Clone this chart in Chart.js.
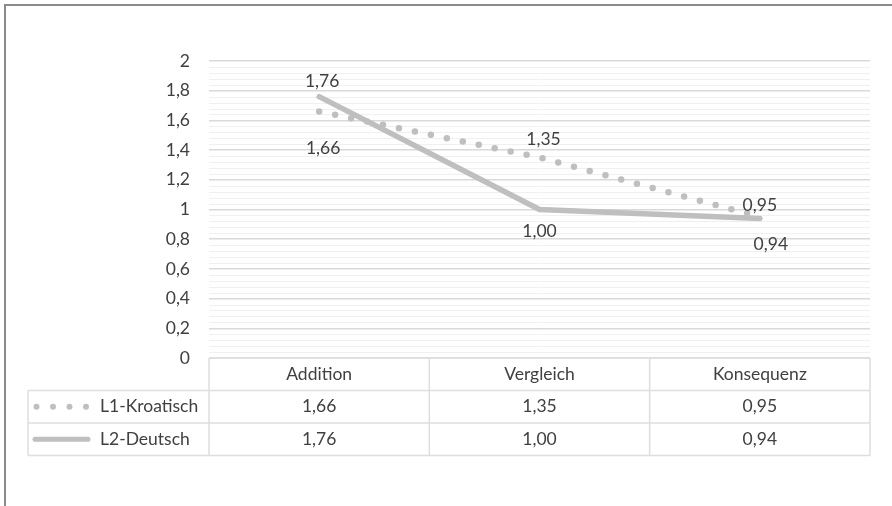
<!DOCTYPE html>
<html>
<head>
<meta charset="utf-8">
<script src="https://cdn.jsdelivr.net/npm/chart.js@4.4.0/dist/chart.umd.min.js"></script>
<style>
  html, body { margin: 0; padding: 0; background: #fff; }
  #wrap { width: 892px; height: 506px; }
</style>
</head>
<body>
<div id="wrap"><canvas id="myChart" width="892" height="506"></canvas></div>
<script>
const categories = ['Addition', 'Vergleich', 'Konsequenz'];
const seriesNames = ['L1-Kroatisch', 'L2-Deutsch'];
const kroatisch = [1.66, 1.35, 0.95];
const deutsch = [1.76, 1.00, 0.94];
const yMin = 0;
const yMax = 2;
const yStep = 0.2;
const yMinorStep = 0.04;

const FONT = 'Lato, "Open Sans", sans-serif';
const FONT_SIZE = 17.5;
const lineGrey = '#bfbfbf';
const textColor = '#404040';
const tableLine = '#dedede';

// label offsets (dx, dy) relative to each point, like excel's above / below
const labelOffsets = [
  [[4, 37], [4, -18], [0, -12]],
  [[3, -15], [0, 22], [11, 26]]
];

function fmt(v, digits) {
  return v.toFixed(digits).replace('.', ',');
}

// light minor gridlines between the major ones
const minorGrid = {
  id: 'minorGrid',
  beforeDatasetsDraw(chart) {
    const { ctx, chartArea, scales } = chart;
    const y = scales.y;
    ctx.save();
    ctx.strokeStyle = '#f0f0f0';
    ctx.lineWidth = 1;
    const n = Math.round((yMax - yMin) / yMinorStep);
    for (let i = 0; i <= n; i++) {
      if (i % 5 === 0) continue;
      const py = Math.round(y.getPixelForValue(yMin + i * yMinorStep)) + 0.5;
      ctx.beginPath();
      ctx.moveTo(chartArea.left, py);
      ctx.lineTo(chartArea.right, py);
      ctx.stroke();
    }
    ctx.restore();
  }
};

const dataLabels = {
  id: 'dataLabels',
  afterDatasetsDraw(chart) {
    const { ctx } = chart;
    ctx.save();
    ctx.font = FONT_SIZE + 'px ' + FONT;
    ctx.fillStyle = textColor;
    ctx.textAlign = 'center';
    ctx.textBaseline = 'middle';
    chart.data.datasets.forEach((ds, di) => {
      const meta = chart.getDatasetMeta(di);
      meta.data.forEach((pt, i) => {
        const off = labelOffsets[di][i];
        ctx.fillText(fmt(ds.data[i], 2), pt.x + off[0], pt.y + off[1]);
      });
    });
    ctx.restore();
  }
};

// data table under the plot, with legend keys, plus the frame of the picture
const dataTable = {
  id: 'dataTable',
  afterDraw(chart) {
    const { ctx, chartArea, scales } = chart;
    const x = scales.x;
    const left = chartArea.left, right = chartArea.right;
    const top = chartArea.bottom;
    const rowH = 32.5;
    const tableLeft = 28;
    const colW = (right - left) / categories.length;

    ctx.save();
    ctx.strokeStyle = tableLine;
    ctx.lineWidth = 1.5;
    // horizontals
    ctx.beginPath();
    ctx.moveTo(left, top); ctx.lineTo(right, top);
    for (let r = 1; r <= 3; r++) {
      const py = top + r * rowH;
      ctx.moveTo(tableLeft, py); ctx.lineTo(right, py);
    }
    // verticals
    for (let c = 0; c <= categories.length; c++) {
      const px = left + c * colW;
      ctx.moveTo(px, top); ctx.lineTo(px, top + 3 * rowH);
    }
    ctx.moveTo(tableLeft, top + rowH); ctx.lineTo(tableLeft, top + 3 * rowH);
    ctx.stroke();

    ctx.font = FONT_SIZE + 'px ' + FONT;
    ctx.fillStyle = textColor;
    ctx.textBaseline = 'middle';
    ctx.textAlign = 'center';
    categories.forEach((c, i) => {
      ctx.fillText(c, x.getPixelForValue(i), top + rowH / 2);
    });
    const rows = [kroatisch, deutsch];
    rows.forEach((vals, r) => {
      const cy = top + rowH * (r + 1.5);
      vals.forEach((v, i) => {
        ctx.fillText(fmt(v, 2), x.getPixelForValue(i), cy);
      });
    });

    // legend keys
    ctx.textAlign = 'left';
    seriesNames.forEach((name, r) => {
      const cy = top + rowH * (r + 1.5);
      ctx.fillText(name, 100, cy);
    });
    const cy1 = top + rowH * 1.5;
    ctx.fillStyle = lineGrey;
    [36.5, 53, 69.5, 86].forEach(px => {
      ctx.beginPath();
      ctx.arc(px, cy1, 3, 0, Math.PI * 2);
      ctx.fill();
    });
    const cy2 = top + rowH * 2.5;
    ctx.strokeStyle = lineGrey;
    ctx.lineWidth = 5;
    ctx.lineCap = 'round';
    ctx.beginPath();
    ctx.moveTo(35, cy2); ctx.lineTo(88, cy2);
    ctx.stroke();

    // outer frame (top and left only visible)
    ctx.strokeStyle = '#8a8a8a';
    ctx.lineWidth = 2;
    ctx.lineCap = 'butt';
    ctx.beginPath();
    ctx.moveTo(5, 506); ctx.lineTo(5, 5); ctx.lineTo(892, 5);
    ctx.stroke();
    ctx.restore();
  }
};

const ctx = document.getElementById('myChart').getContext('2d');
const myChart = new Chart(ctx, {
  type: 'line',
  data: {
    labels: categories,
    datasets: [
      {
        label: seriesNames[0],
        data: kroatisch,
        borderColor: lineGrey,
        borderWidth: 6.5,
        borderDash: [0, 16.3],
        borderCapStyle: 'round',
        pointRadius: 0,
        tension: 0,
      },
      {
        label: seriesNames[1],
        data: deutsch,
        borderColor: lineGrey,
        borderWidth: 5.5,
        borderCapStyle: 'round',
        borderJoinStyle: 'round',
        pointRadius: 0,
        tension: 0,
      },
    ],
  },
  options: {
    responsive: false,
    animation: false,
    events: [],
    layout: { padding: { top: 61, right: 22, bottom: 148, left: 0 } },
    plugins: {
      legend: { display: false },
      tooltip: { enabled: false },
    },
    scales: {
      x: {
        display: false,
        offset: true,
      },
      y: {
        min: yMin,
        max: yMax,
        afterFit(scale) { scale.width = 209; },
        border: { display: false },
        grid: { color: '#d9d9d9', lineWidth: 1.5, drawTicks: false },
        ticks: {
          stepSize: yStep,
          padding: 19,
          color: '#404040',
          font: { family: FONT, size: FONT_SIZE },
          callback: (v) => String(Math.round(v * 10) / 10).replace('.', ','),
        },
      },
    },
  },
  plugins: [minorGrid, dataLabels, dataTable],
});
</script>
</body>
</html>
